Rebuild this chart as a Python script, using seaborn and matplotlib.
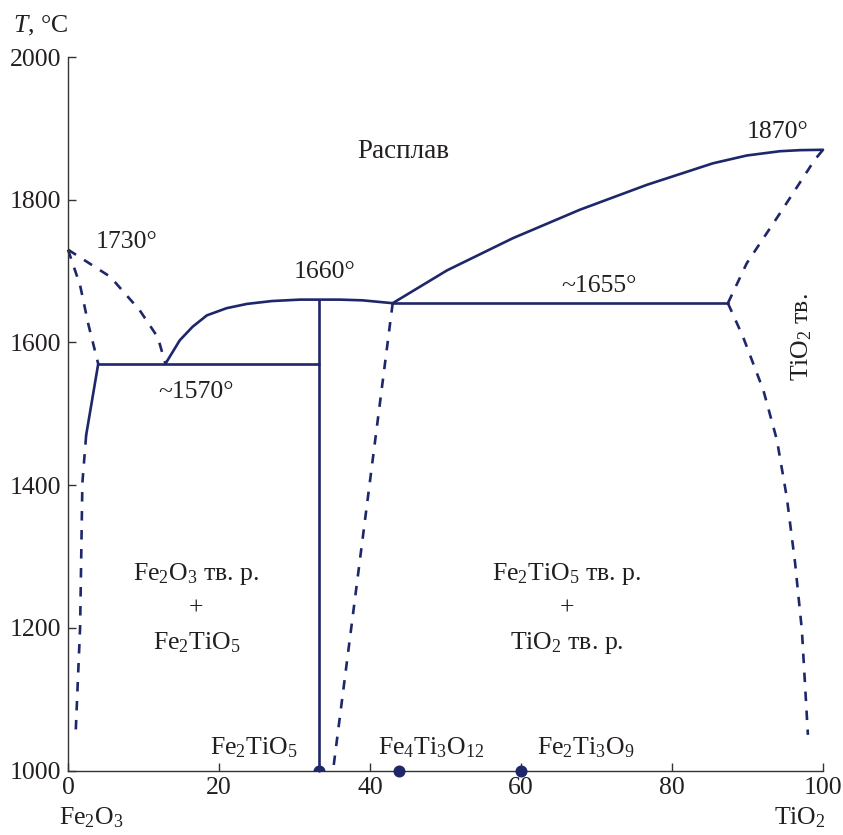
import numpy as np
import pandas as pd
import matplotlib
matplotlib.use("Agg")
import matplotlib.pyplot as plt
import seaborn as sns

# ---- phase-boundary data (x: mol % TiO2, T: °C) ----
# solid boundaries
sol_fe2o3_x = [4.0, 2.4]
sol_fe2o3_t = [1570, 1470]
eutectic_x = [4.0, 33.3]
eutectic_t = [1570, 1570]
liq_left_x = [12.9, 14.8, 16.5, 18.4, 21.0, 23.7, 27.0, 30.7, 33.3, 36.0, 39.0, 41.0, 43.0]
liq_left_t = [1570, 1603, 1622, 1638, 1648, 1654, 1658, 1660, 1660, 1660, 1659, 1657, 1655]
fe2tio5_x = [33.3, 33.3]
fe2tio5_t = [1000, 1660]
peritectic_x = [43.0, 87.4]
peritectic_t = [1655, 1655]
liq_right_x = [43.0, 50.2, 58.9, 67.8, 76.7, 85.4, 89.9, 94.3, 97.0, 100.0]
liq_right_t = [1655, 1701, 1746, 1786, 1821, 1851, 1862, 1868, 1869.5, 1870]

# dashed (assumed) boundaries
liq_fe2o3_x = [0.0, 1.6, 2.7, 4.0]
liq_fe2o3_t = [1730, 1680, 1625, 1570]
liq_eut_x = [0.0, 5.6, 9.5, 11.9, 12.9]
liq_eut_t = [1730, 1692, 1645, 1607, 1570]
solvus_fe2o3_x = [2.4, 1.9, 1.6, 1.0]
solvus_fe2o3_t = [1470, 1403, 1201, 1050]
solvus_fe2tio5_x = [43.0, 35.1]
solvus_fe2tio5_t = [1655, 1000]
tio2_upper_x = [87.4, 89.9, 94.3, 98.9, 100.0]
tio2_upper_t = [1655, 1711, 1781, 1856, 1870]
tio2_lower_x = [87.4, 89.4, 92.1, 93.9, 95.2, 96.3, 97.2, 98.0]
tio2_lower_t = [1655, 1608, 1533, 1463, 1383, 1291, 1197, 1050]

# compounds on the composition axis
compound_x = [33.3, 43.8, 60.0]
compound_t = [1000, 1000, 1000]

x_ticks = [0, 20, 40, 60, 80, 100]
y_ticks = [1000, 1200, 1400, 1600, 1800, 2000]

NAVY = "#1d2769"
INK = "#231f20"

segments = [
    ("sol_fe2o3", "solid", sol_fe2o3_x, sol_fe2o3_t),
    ("eutectic", "solid", eutectic_x, eutectic_t),
    ("liq_left", "solid", liq_left_x, liq_left_t),
    ("fe2tio5", "solid", fe2tio5_x, fe2tio5_t),
    ("peritectic", "solid", peritectic_x, peritectic_t),
    ("liq_right", "solid", liq_right_x, liq_right_t),
    ("liq_fe2o3", "dashed", liq_fe2o3_x, liq_fe2o3_t),
    ("liq_eut", "dashed", liq_eut_x, liq_eut_t),
    ("solvus_fe2o3", "dashed", solvus_fe2o3_x, solvus_fe2o3_t),
    ("solvus_fe2tio5", "dashed", solvus_fe2tio5_x, solvus_fe2tio5_t),
    ("tio2_upper", "dashed", tio2_upper_x, tio2_upper_t),
    ("tio2_lower", "dashed", tio2_lower_x, tio2_lower_t),
]
rows = []
for name, kind, xs, ts in segments:
    for i, (xv, tv) in enumerate(zip(xs, ts)):
        rows.append({"seg": name, "kind": kind, "order": i, "x": xv, "T": tv})
df = pd.DataFrame(rows)

sns.set_style("ticks")
plt.rcParams["font.family"] = ["Liberation Serif", "DejaVu Serif"]
plt.rcParams["mathtext.fontset"] = "custom"
plt.rcParams["mathtext.rm"] = "Liberation Serif"
plt.rcParams["mathtext.it"] = "Liberation Serif:italic"
plt.rcParams["text.color"] = INK

fig = plt.figure(figsize=(8.43, 8.35), dpi=100)
ax = fig.add_axes([0.0807, 0.0772, 0.8956, 0.8545])

sns.lineplot(
    data=df[df["kind"] == "solid"], x="x", y="T", units="seg", estimator=None,
    sort=False, color=NAVY, lw=1.9, legend=False, ax=ax, clip_on=False,
)
sns.lineplot(
    data=df[df["kind"] == "dashed"], x="x", y="T", units="seg", estimator=None,
    sort=False, color=NAVY, lw=1.9, legend=False, ax=ax, clip_on=False,
)
# dashed boundaries: explicit dash pattern with butt caps
for line in ax.get_lines()[-6:]:
    line.set_linestyle((0, (3.6, 3.6)))
    line.set_dash_capstyle("butt")

pts = pd.DataFrame({"x": compound_x, "T": compound_t})
# the Fe2TiO5 dot sits under the vertical line and is cut by the axis
sns.scatterplot(data=pts.iloc[:1], x="x", y="T", color=NAVY, s=75,
                linewidth=0, ax=ax, zorder=5, legend=False)
sns.scatterplot(data=pts.iloc[1:], x="x", y="T", color=NAVY, s=75,
                linewidth=0, ax=ax, clip_on=False, zorder=5, legend=False)

ax.set_xlim(0, 100)
ax.set_ylim(1000, 2000)
ax.set_xticks(x_ticks)
ax.set_yticks(y_ticks)
ax.set_xlabel("")
ax.set_ylabel("")
sns.despine(ax=ax)
for side in ("left", "bottom"):
    ax.spines[side].set_linewidth(1.0)
    ax.spines[side].set_color("#333333")
ax.tick_params(direction="in", length=6, width=1.0, color="#333333",
               labelsize=18.5, labelcolor=INK, pad=5)


def label(x, t, s, fs=18.5, **kw):
    ax.text(x, t, s, fontsize=fs, color=INK, clip_on=False, **kw)


label(-3.7, 2035, "$T$, °C", ha="center", va="baseline")
label(7.7, 1732, "1730°", ha="center", va="baseline")
label(17.0, 1522, "~1570°", ha="center", va="baseline")
label(34.0, 1690, "1660°", ha="center", va="baseline")
label(70.3, 1671, "~1655°", ha="center", va="baseline")
label(94.0, 1886, "1870°", ha="center", va="baseline")
label(44.4, 1858, "Расплав", fs=19.5, ha="center", va="baseline")
label(97.2, 1608, "TiO$_2$ тв.", ha="center", va="center", rotation=90)

label(17.0, 1267, "Fe$_2$O$_3$ тв. р.", ha="center", va="baseline")
label(17.0, 1219, "+", ha="center", va="baseline")
label(17.0, 1170, "Fe$_2$TiO$_5$", ha="center", va="baseline")
label(66.1, 1267, "Fe$_2$TiO$_5$ тв. р.", ha="center", va="baseline")
label(66.1, 1219, "+", ha="center", va="baseline")
label(66.1, 1170, "TiO$_2$ тв. р.", ha="center", va="baseline")

label(24.6, 1022, "Fe$_2$TiO$_5$", ha="center", va="baseline")
label(48.1, 1022, "Fe$_4$Ti$_3$O$_{12}$", ha="center", va="baseline")
label(68.6, 1022, "Fe$_2$Ti$_3$O$_9$", ha="center", va="baseline")

label(-1.2, 925, "Fe$_2$O$_3$", ha="left", va="baseline")
label(100.4, 925, "TiO$_2$", ha="right", va="baseline")

fig.savefig("out.png", dpi=100)
